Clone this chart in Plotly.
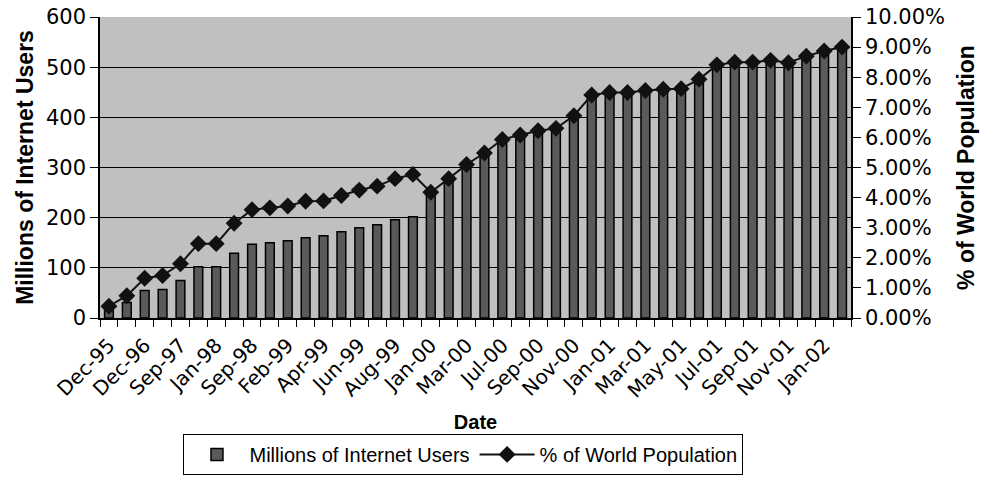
import plotly.graph_objects as go

dates = ["Dec-95", "Jun-96", "Dec-96", "Apr-97", "Sep-97", "Dec-97", "Jan-98", "Jun-98",
         "Sep-98", "Dec-98", "Feb-99", "Mar-99", "Apr-99", "May-99", "Jun-99", "Jul-99",
         "Aug-99", "Nov-99", "Jan-00", "Feb-00", "Mar-00", "May-00", "Jul-00", "Aug-00",
         "Sep-00", "Oct-00", "Nov-00", "Dec-00", "Jan-01", "Feb-01", "Mar-01", "Apr-01",
         "May-01", "Jun-01", "Jul-01", "Aug-01", "Sep-01", "Oct-01", "Nov-01", "Dec-01",
         "Jan-02", "Feb-02"]

users = [16, 31, 55, 57, 75, 102, 102, 129, 147, 150, 154, 160, 164, 172, 180, 186,
         196, 202, 252, 274, 304, 327, 354, 363, 371, 377, 400, 443, 447, 447, 451, 454,
         455, 473, 502, 508, 508, 512, 507, 520, 529, 538]

pct_world = [0.39, 0.74, 1.32, 1.41, 1.80, 2.47, 2.47, 3.15, 3.60, 3.66, 3.72, 3.88,
             3.89, 4.07, 4.25, 4.38, 4.63, 4.77, 4.18, 4.63, 5.10, 5.48, 5.93, 6.08,
             6.22, 6.30, 6.72, 7.41, 7.49, 7.49, 7.56, 7.60, 7.62, 7.93, 8.41, 8.50,
             8.50, 8.56, 8.48, 8.70, 8.87, 9.00]

idx = list(range(len(dates)))
tick_idx = idx[::2]
tick_txt = dates[::2]

fig = go.Figure()
fig.add_trace(go.Bar(
    x=idx, y=users, name="Millions of Internet Users",
    marker=dict(color="#5a5a5a", line=dict(color="#000000", width=1.5)),
    yaxis="y",
))
fig.add_trace(go.Scatter(
    x=idx, y=[p / 100 for p in pct_world], name="% of World Population",
    mode="lines+markers",
    line=dict(color="#111111", width=2),
    marker=dict(symbol="diamond", size=13, color="#111111"),
    yaxis="y2",
))

x_tick_font = dict(family="DejaVu Sans, Verdana, sans-serif", size=20, color="#000")
y_tick_font = dict(family="DejaVu Sans, Verdana, sans-serif", size=21, color="#000")
title_font_y = dict(family="Liberation Sans, Arial, sans-serif", size=23, color="#000")

fig.update_layout(
    width=983, height=487,
    margin=dict(l=100, r=132, t=17, b=167),
    paper_bgcolor="white",
    plot_bgcolor="#c0c0c0",
    bargap=0.51,
    showlegend=True,
    legend=dict(
        orientation="h", x=0.484, xanchor="center",
        y=-0.385, yanchor="top",
        bordercolor="#000", borderwidth=1, bgcolor="white",
        font=dict(family="Liberation Sans, Arial, sans-serif", size=20, color="#000"),
        itemwidth=55, tracegroupgap=0,
    ),
    xaxis=dict(
        automargin=False,
        range=[-0.5, len(dates) - 0.5],
        tickmode="array", tickvals=tick_idx, ticktext=tick_txt,
        tickangle=-45, tickfont=x_tick_font,
        ticks="outside", ticklen=6, tickcolor="rgba(0,0,0,0)",
        minor=dict(tickmode="linear", tick0=-0.5, dtick=1, ticks="outside",
                   ticklen=7, tickcolor="#000", tickwidth=1, showgrid=False),
        showgrid=False, zeroline=False,
        showline=True, linecolor="#000", linewidth=1.5,
        title=dict(text="<b>Date</b>", font=dict(family="Liberation Sans, Arial, sans-serif",
                                                 size=20, color="#000"), standoff=14),
    ),
    yaxis=dict(
        automargin=False,
        range=[0, 600], dtick=100, tickfont=y_tick_font,
        ticks="outside", ticklen=8, tickcolor="#000",
        showgrid=True, gridcolor="#000", gridwidth=1,
        zeroline=False, showline=True, linecolor="#000", linewidth=1.5,
        title=dict(text="<b>Millions of Internet Users</b>", font=title_font_y, standoff=6),
    ),
    yaxis2=dict(
        automargin=False,
        overlaying="y", side="right",
        range=[0, 0.10], dtick=0.01, tickformat=".2%", tickfont=y_tick_font,
        ticks="outside", ticklen=8, tickcolor="#000",
        showgrid=False, zeroline=False, showline=True, linecolor="#000", linewidth=1.5,
        title=dict(text="<b>% of World Population</b>", font=title_font_y, standoff=14),
    ),
)

fig.write_html("out.html")
